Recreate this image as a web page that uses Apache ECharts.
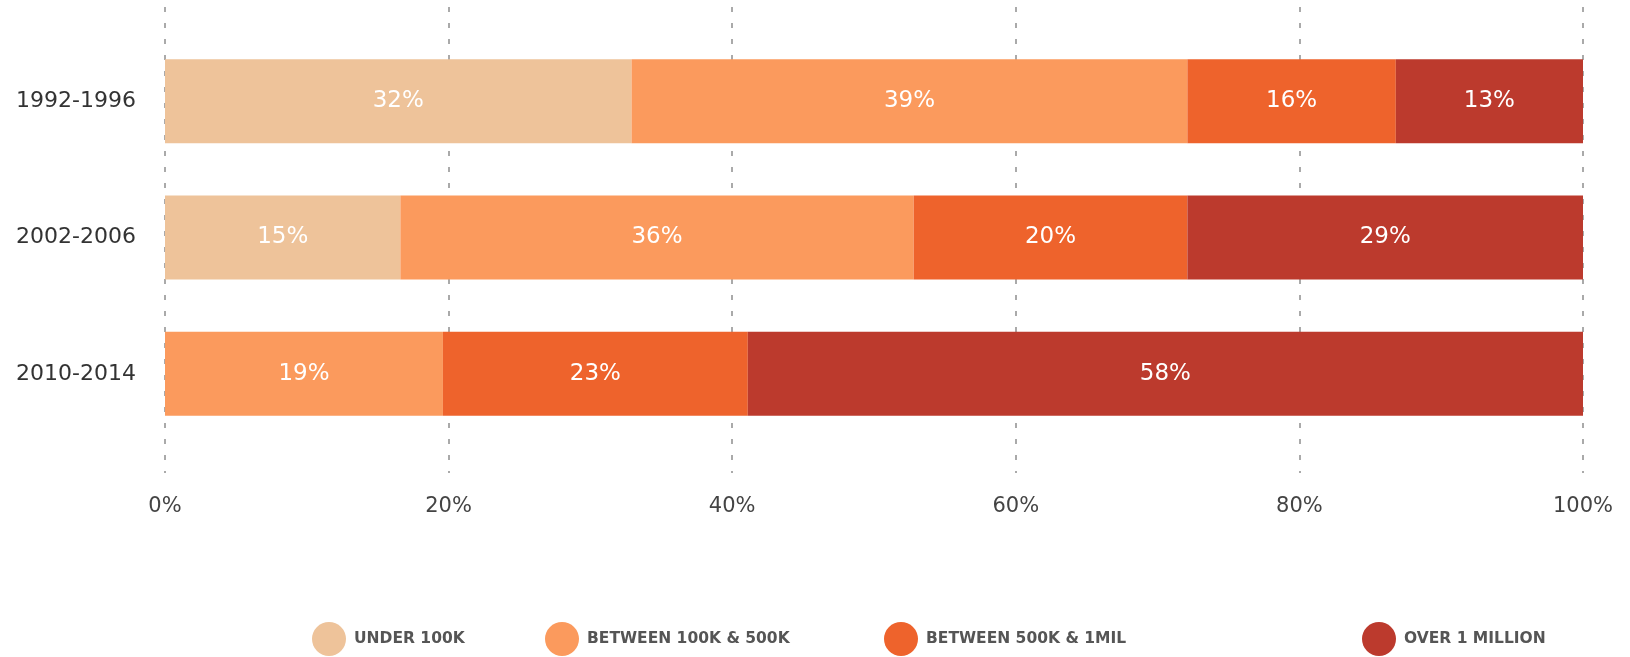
<!DOCTYPE html>
<html>
<head>
<meta charset="utf-8">
<script src="https://cdn.jsdelivr.net/npm/echarts@6/dist/echarts.min.js"></script>
<style>
html,body{margin:0;padding:0;background:#fff;}
#chart{width:1630px;height:657px;}
</style>
</head>
<body>
<div id="chart"></div>
<script>
// ---- data ----
const categories = ['1992-1996', '2002-2006', '2010-2014'];
const seriesNames = ['UNDER 100K', 'BETWEEN 100K & 500K', 'BETWEEN 500K & 1MIL', 'OVER 1 MILLION'];
// bar widths (share, %) as drawn
const under100k = [32.9, 16.6, 0];
const between100k500k = [39.2, 36.2, 19.6];
const between500k1mil = [14.7, 19.3, 21.5];
const over1mil = [13.2, 27.9, 58.9];
// printed labels
const labelsUnder100k = ['32%', '15%', ''];
const labelsBetween100k500k = ['39%', '36%', '19%'];
const labelsBetween500k1mil = ['16%', '20%', '23%'];
const labelsOver1mil = ['13%', '29%', '58%'];
const xTicks = [0, 20, 40, 60, 80, 100];

const colors = ['#EEC39A', '#FB9A5D', '#EE632C', '#BC3A2D'];
const values = [under100k, between100k500k, between500k1mil, over1mil];
const labels = [labelsUnder100k, labelsBetween100k500k, labelsBetween500k1mil, labelsOver1mil];
const FONT = 'DejaVu Sans';

const chart = echarts.init(document.getElementById('chart'), null, {renderer: 'canvas'});

const legendLefts = [312, 545, 884, 1362];
const legends = seriesNames.map((n, i) => ({
  data: [n],
  left: legendLefts[i],
  top: 622,
  orient: 'horizontal',
  icon: 'circle',
  itemWidth: 34,
  itemHeight: 34,
  padding: 0,
  selectedMode: false,
  textStyle: {color: '#555', fontSize: 15.5, fontWeight: 'bold', fontFamily: FONT, padding: [0, 0, 0, 3]}
}));

const barSeries = values.map((v, i) => ({
  name: seriesNames[i],
  type: 'bar',
  stack: 'total',
  xAxisIndex: 0,
  yAxisIndex: 0,
  barWidth: 84,
  data: v,
  itemStyle: {color: colors[i]},
  label: {
    show: true,
    position: 'inside',
    color: '#fff',
    fontSize: 23,
    fontFamily: FONT,
    formatter: p => labels[i][p.dataIndex]
  },
  emphasis: {disabled: true},
  z: 3
}));

const option = {
  backgroundColor: '#fff',
  animation: false,
  color: colors,
  legend: legends,
  grid: [
    {left: 165, right: 47, top: 33, height: 409, containLabel: false},
    {left: 165, right: 47, top: 7, bottom: 184, containLabel: false}
  ],
  xAxis: [
    {type: 'value', gridIndex: 0, min: 0, max: 100, show: false},
    {
      type: 'value', gridIndex: 1, min: xTicks[0], max: xTicks[xTicks.length - 1], interval: 20,
      axisLine: {show: false}, axisTick: {show: false},
      axisLabel: {formatter: '{value}%', color: '#444', fontSize: 21, fontFamily: FONT, margin: 23},
      splitLine: {show: true, lineStyle: {color: '#aaa', width: 2, type: [5, 11]}}
    }
  ],
  yAxis: [
    {
      type: 'category', gridIndex: 0, data: categories, inverse: true,
      axisLine: {show: false}, axisTick: {show: false}, splitLine: {show: false},
      axisLabel: {color: '#333', fontSize: 22, fontFamily: FONT, margin: 29}
    },
    {type: 'value', gridIndex: 1, min: 0, max: 1, show: false}
  ],
  series: barSeries.concat([
    {type: 'line', xAxisIndex: 1, yAxisIndex: 1, data: [], silent: true}
  ])
};
chart.setOption(option);
</script>
</body>
</html>
